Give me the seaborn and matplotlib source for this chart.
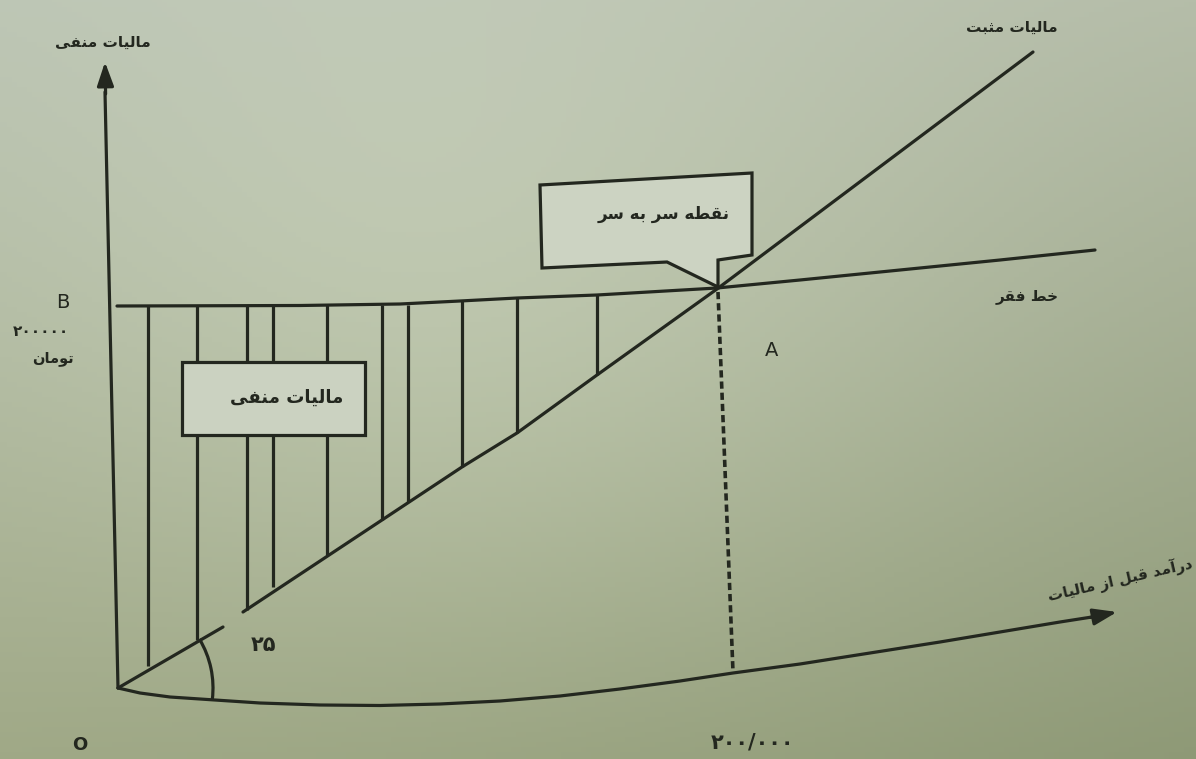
import numpy as np
import pandas as pd
import matplotlib
matplotlib.use("Agg")
import matplotlib.pyplot as plt
import seaborn as sns
from matplotlib.patches import Polygon, Rectangle, Arc

# ---------------------------------------------------------------
# Diagram geometry, in sheet units (x to the right, y downwards)
# ---------------------------------------------------------------
origin_x, origin_y = 118, 688

# vertical axis (negative tax)
y_axis_x = [118, 105]
y_axis_y = [688, 92]

# horizontal axis (income before tax), drawn as a gentle curve
x_axis_x = [118, 140, 170, 215, 260, 320, 380, 440, 500, 560, 620, 680,
            733, 800, 870, 940, 1000, 1060, 1092]
x_axis_y = [688, 693, 697, 700, 703, 705, 705.5, 704, 701, 696, 689, 681,
            673, 664, 653, 642, 632, 622, 617]

# poverty line
poverty_x = [117, 300, 400, 460, 517, 597, 717, 800, 900, 1000, 1095]
poverty_y = [306, 305.5, 304, 301, 298, 295, 288, 280, 270, 260, 250]

# 45-degree tax line (short piece near the origin, then the main line)
tax_low_x = [118, 223]
tax_low_y = [688, 627]
tax_x = [243, 382, 462, 517, 597, 717, 1033]
tax_y = [612, 520, 467, 433, 375, 289, 52]

# hatching of the negative-tax region
hatch_x = [148, 197, 247, 273, 327, 382, 408, 462, 517, 597]
hatch_top = [306, 306, 306, 306, 305, 305, 305, 301, 298, 295]
hatch_bottom = [666, 640, 610, 587, 555, 520, 502, 467, 433, 375]

# break-even drop line
breakeven_x = [718, 733]
breakeven_y = [292, 672]

# callout shape for the break-even point
callout_x = [540, 752, 752, 718, 718, 667, 542]
callout_y = [185, 173, 255, 260, 287, 262, 268]

# label box for the negative-tax region
neg_box = (182, 362, 183, 73)  # left, top, width, height

# ---------------------------------------------------------------
# Contextual shaping for Persian text (presentation forms)
# ---------------------------------------------------------------
_FORMS = {
    'ا': ('\uFE8D', '\uFE8E', None, None),
    'آ': ('\uFE81', '\uFE82', None, None),
    'ب': ('\uFE8F', '\uFE90', '\uFE91', '\uFE92'),
    'ت': ('\uFE95', '\uFE96', '\uFE97', '\uFE98'),
    'ث': ('\uFE99', '\uFE9A', '\uFE9B', '\uFE9C'),
    'خ': ('\uFEA5', '\uFEA6', '\uFEA7', '\uFEA8'),
    'د': ('\uFEA9', '\uFEAA', None, None),
    'ر': ('\uFEAD', '\uFEAE', None, None),
    'ز': ('\uFEAF', '\uFEB0', None, None),
    'س': ('\uFEB1', '\uFEB2', '\uFEB3', '\uFEB4'),
    'ط': ('\uFEC1', '\uFEC2', '\uFEC3', '\uFEC4'),
    'ف': ('\uFED1', '\uFED2', '\uFED3', '\uFED4'),
    'ق': ('\uFED5', '\uFED6', '\uFED7', '\uFED8'),
    'ل': ('\uFEDD', '\uFEDE', '\uFEDF', '\uFEE0'),
    'م': ('\uFEE1', '\uFEE2', '\uFEE3', '\uFEE4'),
    'ن': ('\uFEE5', '\uFEE6', '\uFEE7', '\uFEE8'),
    'ه': ('\uFEE9', '\uFEEA', '\uFEEB', '\uFEEC'),
    'و': ('\uFEED', '\uFEEE', None, None),
    'ی': ('\uFEEF', '\uFEF0', '\uFEF3', '\uFEF4'),
}


def fa(text):
    """Join Persian letters into their contextual forms, in visual order."""
    out = []
    for i, ch in enumerate(text):
        forms = _FORMS.get(ch)
        if forms is None:
            out.append(ch)
            continue
        prev = text[i - 1] if i > 0 else ''
        nxt = text[i + 1] if i + 1 < len(text) else ''
        joins_prev = prev in _FORMS and _FORMS[prev][2] is not None
        joins_next = forms[2] is not None and nxt in _FORMS
        if joins_prev and joins_next:
            out.append(forms[3])
        elif joins_prev:
            out.append(forms[1])
        elif joins_next:
            out.append(forms[2])
        else:
            out.append(forms[0])
    return ''.join(reversed(out))


# ---------------------------------------------------------------
# Figure
# ---------------------------------------------------------------
sns.set_theme(style="white")
plt.rcParams['font.family'] = ['DejaVu Sans']

W, H = 1196, 759
fig = plt.figure(figsize=(W / 100, H / 100), dpi=100)
ax = fig.add_axes([0, 0, 1, 1])
ax.set_xlim(0, W)
ax.set_ylim(H, 0)
ax.axis('off')

# paper tone: pale sage, darker towards the lower edge and right side
gx, gy = np.meshgrid(np.linspace(0, 1, 240), np.linspace(0, 1, 152))
tl = np.array([186, 195, 178])
tr = np.array([180, 188, 168])
bl = np.array([158, 167, 133])
br = np.array([142, 153, 118])
paper = (tl * ((1 - gx) * (1 - gy))[..., None] + tr * (gx * (1 - gy))[..., None]
         + bl * ((1 - gx) * gy)[..., None] + br * (gx * gy)[..., None])
glow = np.exp(-(((gx - 0.40) / 0.42) ** 2 + ((gy - 0.42) / 0.50) ** 2))
paper = paper + 18 * glow[..., None]
ax.imshow(np.clip(paper, 0, 255).astype(np.uint8), extent=[0, W, H, 0],
          aspect='auto', zorder=0, interpolation='bilinear')

ink = '#23271f'
lw = 2.3


def draw_line(xs, ys, **kw):
    df = pd.DataFrame({'x': xs, 'y': ys})
    sns.lineplot(data=df, x='x', y='y', sort=False, estimator=None, ax=ax,
                 color=kw.pop('color', ink), lw=kw.pop('lw', lw), zorder=3, **kw)


# axes
draw_line(y_axis_x, y_axis_y)
ax.annotate('', xy=(105, 62), xytext=(105.6, 94),
            arrowprops=dict(arrowstyle='-|>,head_length=1.2,head_width=0.42',
                            color=ink, lw=lw, shrinkA=0, shrinkB=0), zorder=4)
draw_line(x_axis_x, x_axis_y)
ax.annotate('', xy=(1117, 612), xytext=(1090, 617.5),
            arrowprops=dict(arrowstyle='-|>,head_length=1.2,head_width=0.42',
                            color=ink, lw=lw, shrinkA=0, shrinkB=0), zorder=4)

# poverty line and tax line
draw_line(poverty_x, poverty_y)
draw_line(tax_low_x, tax_low_y)
draw_line(tax_x, tax_y)

# hatching
ax.vlines(hatch_x, hatch_top, hatch_bottom, colors=ink, lw=lw, zorder=3)

# 45-degree angle arc
ax.add_patch(Arc((origin_x, origin_y), 190, 190, theta1=-31, theta2=7,
                 color=ink, lw=lw, zorder=3))

# break-even drop line
draw_line(breakeven_x, breakeven_y, linestyle=(0, (2.0, 1.1)), lw=2.6)

# callout and label box
ax.add_patch(Polygon(np.column_stack([callout_x, callout_y]), closed=True,
                     facecolor='#ccd3c2', edgecolor=ink, lw=lw, zorder=5))
bx, by, bw, bh = neg_box
ax.add_patch(Rectangle((bx, by), bw, bh, facecolor='#cbd2c1', edgecolor=ink,
                       lw=lw, zorder=5))

# ---------------------------------------------------------------
# Labels
# ---------------------------------------------------------------
txt = dict(color=ink, ha='center', va='center', zorder=6, fontweight='bold')
ax.text(103, 42, fa('مالیات منفی'), fontsize=11, **txt)
ax.text(1012, 27, fa('مالیات مثبت'), fontsize=11, **txt)
ax.text(664, 214, fa('نقطه سر به سر'), fontsize=12, **txt)
ax.text(287, 398, fa('مالیات منفی'), fontsize=13, **txt)
ax.text(1027, 297, fa('خط فقر'), fontsize=11, **txt)
ax.text(1120, 580, fa('درآمد قبل از مالیات'), fontsize=11, rotation=13, **txt)
ax.text(53, 359, fa('تومان'), fontsize=10.5, **txt)
ax.text(41, 331, '۲۰۰۰۰۰', fontsize=11, **txt)
ax.text(263, 645, '۲۵', fontsize=15, **txt)
ax.text(752, 742, '۲۰۰/۰۰۰', fontsize=15, **txt)
ax.text(63, 302, 'B', fontsize=14, color=ink, ha='center', va='center', zorder=6)
ax.text(772, 350, 'A', fontsize=14, color=ink, ha='center', va='center', zorder=6)
ax.text(80, 745, 'O', fontsize=13, color=ink, ha='center', va='center', zorder=6, fontweight='bold')

fig.savefig('out.png', dpi=100)
